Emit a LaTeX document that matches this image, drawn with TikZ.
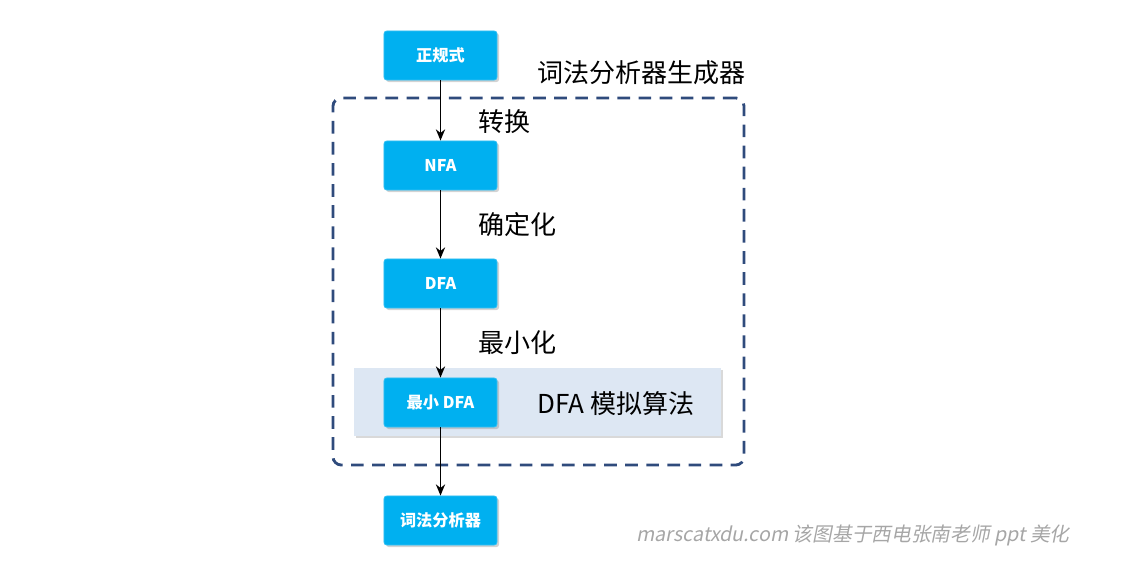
\documentclass[tikz,border=0pt]{standalone}
\usepackage{fontspec}
\setmainfont{Noto Sans CJK SC}
\newfontfamily\markfont[FakeSlant=0.2]{Noto Sans CJK SC}
\usetikzlibrary{arrows.meta, positioning, shadows}
\definecolor{cblue}{HTML}{00B0F0}
\definecolor{cframe}{HTML}{2F4B7C}
\definecolor{cband}{HTML}{DDE7F3}
\definecolor{cmark}{HTML}{A6A6A6}
\tikzset{
  stage/.style={fill=cblue, draw=cblue!80!white, line width=0.6pt, rounded corners=2pt,
    minimum width=2.825cm, minimum height=1.225cm, text=white, font=\bfseries\fontsize{11.5}{13}\selectfont,
    drop shadow={shadow xshift=1.5pt, shadow yshift=-1.5pt, opacity=0.35}},
  arrow/.style={-{Stealth[length=2.8mm, width=2.3mm]}, line width=1.3pt, black},
  label/.style={anchor=west, font=\fontsize{18.5}{20}\selectfont, inner sep=0pt},
  frame/.style={draw=cframe, dash pattern=on 9pt off 6pt, line width=2pt, rounded corners=6pt},
}
\begin{document}
\begin{tikzpicture}[x=0.025cm, y=-0.025cm]
  \useasboundingbox (0,0) rectangle (1121,571);
  % generator frame and simulation band
  \node[frame, minimum width=10.275cm, minimum height=9.175cm] (gen) at (538.5,281.5) {};
  \node[fill=cband, minimum width=9.175cm, minimum height=1.7cm,
    drop shadow={shadow xshift=1.5pt, shadow yshift=-1.5pt, opacity=0.3}] (sim) at (537.5,402) {};
  % stages
  \node[stage] (re)   at (440.5,55.5)  {正规式};
  \node[stage] (nfa)  at (440.5,165.5) {NFA};
  \node[stage] (dfa)  at (440.5,283.5) {DFA};
  \node[stage] (mdfa) at (440.5,402.5) {最小 DFA};
  \node[stage] (lex)  at (440.5,520.5) {词法分析器};
  \draw[arrow] (re) -- (nfa);
  \draw[arrow] (nfa) -- (dfa);
  \draw[arrow] (dfa) -- (mdfa);
  \draw[arrow] (mdfa) -- (lex);
  % labels
  \node[label] (title) at (537,73)  {词法分析器生成器};
  \node[label] (conv)  at (478,122) {转换};
  \node[label] (det)   at (478,225) {确定化};
  \node[label] (min)   at (478,343) {最小化};
  \node[label] (simt)  at (537,404) {DFA 模拟算法};
  \node[anchor=west, inner sep=0pt, text=cmark, font=\markfont\fontsize{14}{16}\selectfont] (mark) at (636,535)
    {marscatxdu.com 该图基于西电张南老师 ppt 美化};
\end{tikzpicture}
\end{document}
